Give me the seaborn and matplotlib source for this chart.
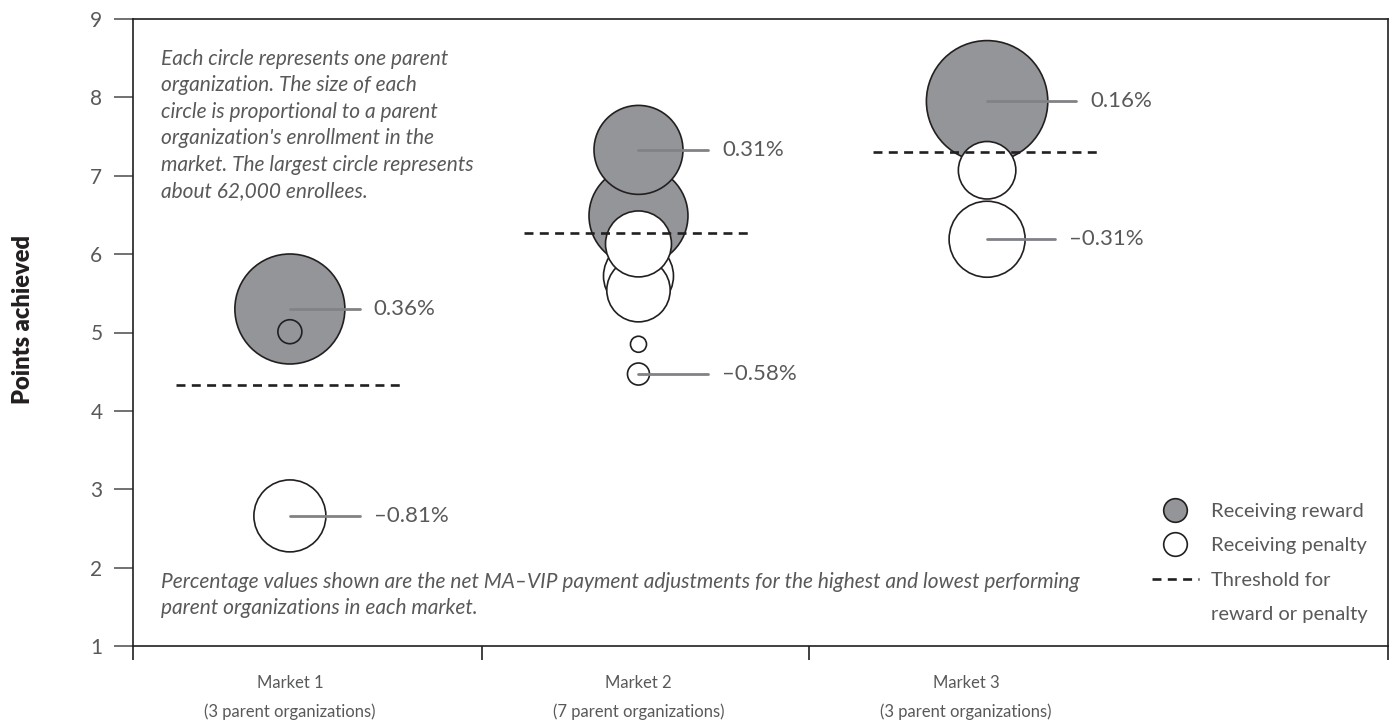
import matplotlib
matplotlib.use('Agg')
import matplotlib.pyplot as plt
from matplotlib.lines import Line2D
from matplotlib.colors import Normalize
import seaborn as sns
import pandas as pd

# values
market_x = [1, 2, 3]
market_labels = ['Market 1\n(3 parent organizations)',
                 'Market 2\n(7 parent organizations)',
                 'Market 3\n(3 parent organizations)']
market_label_x = [1, 2, 2.94]
separators = [0.55, 1.55, 2.49, 4.15]

org_market = [1, 1, 1, 2, 2, 2, 2, 2, 2, 2, 3, 3, 3]
org_points = [5.30, 5.01, 2.66, 6.49, 7.33, 5.72, 5.54, 6.13, 4.85, 4.47, 7.95, 7.07, 6.19]
org_enroll = [50900, 2420, 21800, 41200, 33300, 20600, 16900, 18300, 1080, 2040, 62000, 13900, 24300]
org_status = ['reward', 'reward', 'penalty', 'reward', 'reward', 'penalty', 'penalty',
              'penalty', 'penalty', 'penalty', 'reward', 'penalty', 'penalty']

thresholds = [4.33, 6.27, 7.30]

lab_market = [1, 1, 2, 2, 3, 3]
lab_points = [5.30, 2.66, 7.33, 4.47, 7.95, 6.19]
lab_text = ['0.36%', '\u20130.81%', '0.31%', '\u20130.58%', '0.16%', '\u20130.31%']
lab_len = [0.20, 0.20, 0.20, 0.20, 0.255, 0.195]

df = pd.DataFrame({'market': org_market, 'points': org_points,
                   'enroll': org_enroll, 'status': org_status})

GRAY = '#939598'
EDGE = '#231f20'
TXT = '#58595b'
LINE = '#808285'

sns.set_style('white')
plt.rcParams['font.family'] = ['Lato', 'DejaVu Sans']

fig = plt.figure(figsize=(13.96, 7.25), dpi=100)
ax = fig.add_axes([133 / 1396, 1 - 646 / 725, 1255 / 1396, 627 / 725])

sns.scatterplot(data=df, x='market', y='points', hue='status', size='enroll',
                palette={'reward': GRAY, 'penalty': 'white'},
                sizes=(0, 7640), size_norm=Normalize(0, 62000),
                edgecolor=EDGE, linewidth=1.2, legend=False, ax=ax, zorder=3)

for mx, t in zip(market_x, thresholds):
    ax.hlines(t, mx - 0.328, mx + 0.328, color=EDGE, lw=1.9,
              linestyle=(0, (3.4, 2.4)), zorder=4)

for mx, p, txt, ln in zip(lab_market, lab_points, lab_text, lab_len):
    ax.plot([mx, mx + ln], [p, p], color=LINE, lw=2, zorder=5)
    ax.text(mx + ln + 0.04, p, txt, color=TXT, fontsize=16, va='center', ha='left')

ax.set_xlim(separators[0], separators[-1])
ax.set_ylim(1, 9)
ax.set_yticks(range(1, 10))
ax.set_xticks(separators)
ax.set_xticklabels([])
ax.set_xticks(market_label_x, minor=True)
ax.set_xticklabels(market_labels, minor=True, linespacing=1.9)
ax.tick_params(axis='x', which='major', direction='out', length=10, width=1.2,
               color=EDGE, bottom=True)
ax.tick_params(axis='x', which='minor', length=0, pad=21, labelsize=12, labelcolor=TXT)
ax.tick_params(axis='y', direction='out', length=14, width=1.2, color=TXT,
               pad=8, labelsize=15, labelcolor=TXT, left=True)
for s in ax.spines.values():
    s.set_visible(True)
    s.set_color(EDGE)
    s.set_linewidth(1.2)
ax.set_xlabel('')
ax.set_ylabel('Points achieved', fontsize=17, fontweight='heavy', color=EDGE)
ax.yaxis.set_label_coords(-0.079, 0.52)

ax.text(0.022, 0.952,
        "Each circle represents one parent\norganization. The size of each\n"
        "circle is proportional to a parent\norganization's enrollment in the\n"
        "market. The largest circle represents\nabout 62,000 enrollees.",
        transform=ax.transAxes, style='italic', fontsize=15, color=TXT,
        va='top', ha='left', linespacing=1.4)
ax.text(0.022, 0.118,
        "Percentage values shown are the net MA\u2013VIP payment adjustments for the highest and lowest performing\n"
        "parent organizations in each market.",
        transform=ax.transAxes, style='italic', fontsize=15, color=TXT,
        va='top', ha='left', linespacing=1.4)

handles = [Line2D([], [], marker='o', ls='none', markersize=17, mfc=GRAY, mec=EDGE, mew=1.2),
           Line2D([], [], marker='o', ls='none', markersize=17, mfc='white', mec=EDGE, mew=1.2),
           Line2D([], [], color=EDGE, lw=1.9, ls=(0, (3.4, 2.4))),
           Line2D([], [], ls='none')]
leg = ax.legend(handles, ['Receiving reward', 'Receiving penalty', 'Threshold for', 'reward or penalty'],
                loc='lower right', bbox_to_anchor=(0.998, 0.008), frameon=False,
                fontsize=14.5, handlelength=2.3, handletextpad=0.6, labelspacing=0.85)
for t in leg.get_texts():
    t.set_color(TXT)

fig.savefig('out.png', dpi=100)
